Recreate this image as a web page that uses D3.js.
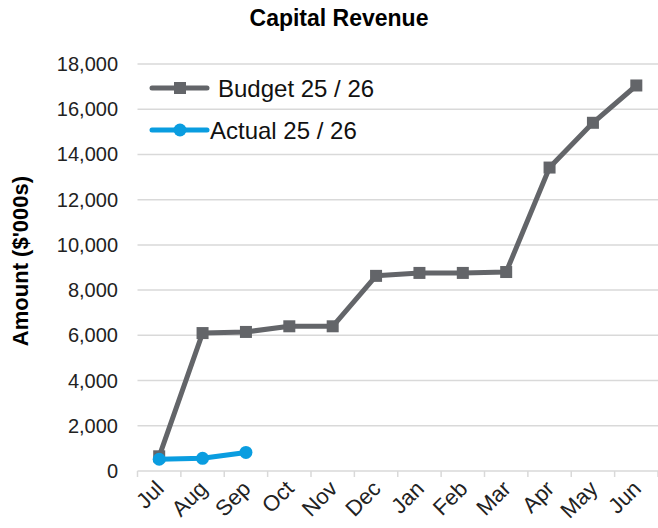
<!DOCTYPE html>
<html><head><meta charset="utf-8">
<script src="https://cdn.jsdelivr.net/npm/d3@7"></script>
<style>body{margin:0;background:#fff}svg{display:block;font-family:Arial,"Liberation Sans",sans-serif}</style>
</head><body><svg id="c" width="658" height="528"></svg>
<script>
const months = ["Jul","Aug","Sep","Oct","Nov","Dec","Jan","Feb","Mar","Apr","May","Jun"];
const budget = [650,6100,6150,6400,6400,8630,8760,8760,8800,13420,15400,17050];
const actual = [520,560,820];
const yTicks = [0,2000,4000,6000,8000,10000,12000,14000,16000,18000];
const seriesNames = ["Budget 25 / 26","Actual 25 / 26"];
const colors = ["#636569","#0a9de0"];

const svg = d3.select("#c");
const x = d3.scaleBand().domain(months).range([137.5,658]);
const y = d3.scaleLinear().domain([0,18000]).range([471,64]);
const cx = m => x(m)+x.bandwidth()/2;

// gridlines
svg.append("g").selectAll("line").data(yTicks.slice(1)).join("line")
  .attr("x1",137.5).attr("x2",658).attr("y1",d=>y(d)).attr("y2",d=>y(d))
  .attr("stroke","#d9d9d9").attr("stroke-width",1.5);

// y tick labels
svg.append("g").selectAll("text").data(yTicks).join("text")
  .attr("x",118).attr("y",d=>y(d)+7).attr("text-anchor","end")
  .attr("font-size",20).attr("fill","#222").text(d=>d3.format(",")(d));

// x axis
const xa = svg.append("g");
xa.append("line").attr("x1",137.5).attr("x2",658).attr("y1",471).attr("y2",471).attr("stroke","#d9d9d9").attr("stroke-width",1.5);
const bounds = months.map(m=>x(m)).concat([x.range()[1]]);
xa.selectAll("line.t").data(bounds).join("line").attr("class","t")
  .attr("x1",d=>d).attr("x2",d=>d).attr("y1",471).attr("y2",477).attr("stroke","#d9d9d9").attr("stroke-width",1.5);
xa.selectAll("text").data(months).join("text")
  .attr("transform",d=>`translate(${cx(d)+6},${490}) rotate(-45)`)
  .attr("text-anchor","end").attr("font-size",22).attr("fill","#222").text(d=>d);

// title & y label
svg.append("text").attr("x",339).attr("y",26).attr("text-anchor","middle")
  .attr("font-size",23).attr("font-weight","bold").text("Capital Revenue");
svg.append("text").attr("transform","translate(28,261) rotate(-90)").attr("text-anchor","middle")
  .attr("font-size",22).attr("font-weight","bold").text("Amount ($'000s)");

const line = d3.line().x((d,i)=>cx(months[i])).y(d=>y(d));
svg.append("path").attr("d",line(budget)).attr("fill","none").attr("stroke",colors[0]).attr("stroke-width",5).attr("stroke-linejoin","round");
svg.append("g").selectAll("rect").data(budget).join("rect")
  .attr("x",(d,i)=>cx(months[i])-6).attr("y",d=>y(d)-6).attr("width",12).attr("height",12).attr("fill",colors[0]);
svg.append("path").attr("d",line(actual)).attr("fill","none").attr("stroke",colors[1]).attr("stroke-width",5).attr("stroke-linejoin","round");
svg.append("g").selectAll("circle").data(actual).join("circle")
  .attr("cx",(d,i)=>cx(months[i])).attr("cy",d=>y(d)).attr("r",6.5).attr("fill",colors[1]);

// legend
const lg = svg.append("g");
lg.append("line").attr("x1",152).attr("x2",207).attr("y1",88).attr("y2",88).attr("stroke",colors[0]).attr("stroke-width",5).attr("stroke-linecap","round");
lg.append("rect").attr("x",174).attr("y",82).attr("width",12).attr("height",12).attr("fill",colors[0]);
lg.append("text").attr("x",218).attr("y",97).attr("font-size",24).attr("fill","#111").text(seriesNames[0]);
lg.append("line").attr("x1",152).attr("x2",207).attr("y1",130).attr("y2",130).attr("stroke",colors[1]).attr("stroke-width",5).attr("stroke-linecap","round");
lg.append("circle").attr("cx",180).attr("cy",130).attr("r",6.5).attr("fill",colors[1]);
lg.append("text").attr("x",210).attr("y",139).attr("font-size",24).attr("fill","#111").text(seriesNames[1]);
</script></body></html>
